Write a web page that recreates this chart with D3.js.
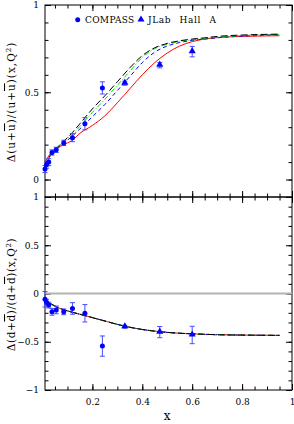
<!DOCTYPE html>
<meta charset="utf-8">
<script src="https://d3js.org/d3.v7.min.js"></script>
<style>
  body { margin: 0; background: #fff; }
  text { font-family: "DejaVu Serif", serif; }
</style>
<div id="chart"></div>
<script>
// x grid of the model curves
var xGrid = [0.01, 0.02, 0.03, 0.05, 0.07, 0.1, 0.12, 0.15, 0.2, 0.25, 0.3, 0.35, 0.4, 0.45, 0.5, 0.55, 0.6, 0.65, 0.7, 0.8, 0.9, 0.95];

// upper panel, Delta(u+ubar)/(u+ubar)
var uRed   = [0.10, 0.125, 0.145, 0.17, 0.19, 0.21, 0.225, 0.265, 0.31, 0.365, 0.44, 0.52, 0.60, 0.67, 0.725, 0.765, 0.79, 0.805, 0.813, 0.82, 0.823, 0.824];
var uBlue  = [0.08, 0.11, 0.135, 0.165, 0.19, 0.225, 0.25, 0.29, 0.36, 0.43, 0.51, 0.59, 0.67, 0.73, 0.765, 0.785, 0.797, 0.805, 0.812, 0.822, 0.828, 0.83];
var uGreen = [0.075, 0.11, 0.135, 0.17, 0.195, 0.235, 0.26, 0.305, 0.385, 0.46, 0.54, 0.62, 0.70, 0.75, 0.775, 0.792, 0.80, 0.808, 0.815, 0.825, 0.83, 0.832];
var uBlack = [0.075, 0.11, 0.135, 0.17, 0.20, 0.24, 0.27, 0.32, 0.405, 0.48, 0.56, 0.64, 0.71, 0.755, 0.78, 0.795, 0.805, 0.812, 0.82, 0.828, 0.832, 0.833];

// lower panel, Delta(d+dbar)/(d+dbar) -- the four curves sit on top of each other
var dCurve = [-0.04, -0.08, -0.10, -0.13, -0.155, -0.18, -0.195, -0.215, -0.25, -0.285, -0.32, -0.35, -0.373, -0.39, -0.403, -0.412, -0.418, -0.423, -0.427, -0.431, -0.433, -0.434];

// data points
var compassX     = [0.01, 0.016, 0.025, 0.038, 0.055, 0.085, 0.12, 0.17, 0.24];
var compassU     = [0.06, 0.085, 0.10, 0.155, 0.17, 0.21, 0.24, 0.32, 0.525];
var compassUErr  = [0.02, 0.02, 0.02, 0.015, 0.015, 0.015, 0.023, 0.035, 0.035];
var compassD     = [-0.06, -0.09, -0.12, -0.19, -0.17, -0.19, -0.155, -0.205, -0.545];
var compassDErr  = [0.08, 0.03, 0.03, 0.035, 0.04, 0.03, 0.06, 0.09, 0.105];

var jlabX    = [0.33, 0.47, 0.60];
var jlabU    = [0.552, 0.655, 0.733];
var jlabUErr = [0.012, 0.015, 0.03];
var jlabD    = [-0.345, -0.40, -0.43];
var jlabDErr = [0.015, 0.058, 0.09];

var xTicksMajor = [0.2, 0.4, 0.6, 0.8, 1];

var W = 294, H = 424;
var left = 45, right = 292, topY = 5, midY = 197, botY = 390;

var svg = d3.select("#chart").append("svg")
    .attr("width", W).attr("height", H);

var x = d3.scaleLinear().domain([0.01, 1]).range([left, right]);
var yU = d3.scaleLinear().domain([-0.1, 1]).range([midY, topY]);
var yD = d3.scaleLinear().domain([-1, 1]).range([botY, midY]);

var xMinor = d3.range(0.05, 1.0, 0.05).map(function(v) { return +v.toFixed(2); });

function panel(y, yMinor, yMajor, top, bottom, showX) {
  var g = svg.append("g");

  // inward ticks on all four sides
  g.append("g").attr("transform", "translate(0," + bottom + ")")
    .call(d3.axisTop(x).tickValues(xMinor).tickSize(3.5).tickFormat(""));
  g.append("g").attr("transform", "translate(0," + bottom + ")")
    .call(d3.axisTop(x).tickValues(xTicksMajor).tickSize(6).tickFormat(""));
  g.append("g").attr("transform", "translate(0," + top + ")")
    .call(d3.axisBottom(x).tickValues(xMinor).tickSize(3.5).tickFormat(""));
  g.append("g").attr("transform", "translate(0," + top + ")")
    .call(d3.axisBottom(x).tickValues(xTicksMajor).tickSize(6).tickFormat(""));

  g.append("g").attr("transform", "translate(" + left + ",0)")
    .call(d3.axisRight(y).tickValues(yMinor).tickSize(3.5).tickFormat(""));
  g.append("g").attr("transform", "translate(" + left + ",0)")
    .call(d3.axisLeft(y).tickValues(yMajor).tickSize(-6).tickPadding(6)
      .tickFormat(d3.format("~g")));
  g.append("g").attr("transform", "translate(" + right + ",0)")
    .call(d3.axisLeft(y).tickValues(yMinor).tickSize(3.5).tickFormat(""));
  g.append("g").attr("transform", "translate(" + right + ",0)")
    .call(d3.axisLeft(y).tickValues(yMajor).tickSize(6).tickFormat(""));

  if (showX) {
    g.append("g").attr("transform", "translate(0," + bottom + ")")
      .call(d3.axisBottom(x).tickValues(xTicksMajor).tickSize(0).tickPadding(9)
        .tickFormat(d3.format("~g")));
  }

  g.selectAll(".domain").remove();
  g.selectAll(".tick line").attr("stroke", "#000");
  g.selectAll(".tick text").attr("font-family", "DejaVu Serif").attr("font-size", 9).attr("fill", "#000");

  g.append("rect")
    .attr("x", left).attr("y", top)
    .attr("width", right - left).attr("height", bottom - top)
    .attr("fill", "none").attr("stroke", "#000").attr("stroke-width", 1);
  return g;
}

panel(yU, d3.range(-0.1, 1.01, 0.1).map(function(v) { return +v.toFixed(1); }), [0, 0.5, 1], topY, midY, false);
panel(yD, d3.range(-1, 1.01, 0.1).map(function(v) { return +v.toFixed(1); }), [-1, -0.5, 0, 0.5, 1], midY, botY, true);

// zero line in lower panel
svg.append("line")
  .attr("x1", left).attr("x2", right)
  .attr("y1", yD(0)).attr("y2", yD(0))
  .attr("stroke", "#b4b4b4").attr("stroke-width", 2);

var styles = [
  {color: "#ff0000", dash: null},
  {color: "#0000ff", dash: "4,3"},
  {color: "#00e000", dash: "5,2,1,2"},
  {color: "#000000", dash: "7,3"}
];

function drawCurve(y, vals, s) {
  var line = d3.line()
    .x(function(d, i) { return x(xGrid[i]); })
    .y(function(d) { return y(d); })
    .curve(d3.curveMonotoneX);
  svg.append("path")
    .datum(vals)
    .attr("d", line)
    .attr("fill", "none")
    .attr("stroke", s.color)
    .attr("stroke-width", 1)
    .attr("stroke-dasharray", s.dash);
}

[uRed, uBlue, uGreen, uBlack].forEach(function(v, i) { drawCurve(yU, v, styles[i]); });
[dCurve, dCurve, dCurve, dCurve].forEach(function(v, i) { drawCurve(yD, v, styles[i]); });

function errorBars(y, xs, ys, es) {
  var g = svg.append("g").attr("stroke", "#4a4aff").attr("stroke-width", 1);
  xs.forEach(function(xv, i) {
    var px = x(xv), y1 = y(ys[i] - es[i]), y2 = y(ys[i] + es[i]);
    g.append("line").attr("x1", px).attr("x2", px).attr("y1", y1).attr("y2", y2);
    g.append("line").attr("x1", px - 2.5).attr("x2", px + 2.5).attr("y1", y1).attr("y2", y1);
    g.append("line").attr("x1", px - 2.5).attr("x2", px + 2.5).attr("y1", y2).attr("y2", y2);
  });
}

function circles(y, xs, ys) {
  svg.append("g").selectAll("circle")
    .data(xs).enter().append("circle")
    .attr("cx", function(d) { return x(d); })
    .attr("cy", function(d, i) { return y(ys[i]); })
    .attr("r", 2.5)
    .attr("fill", "#0000ff");
}

var tri = d3.symbol().type(d3.symbolTriangle).size(22);
function triangles(y, xs, ys) {
  svg.append("g").selectAll("path")
    .data(xs).enter().append("path")
    .attr("d", tri)
    .attr("transform", function(d, i) { return "translate(" + x(d) + "," + (y(ys[i]) - 0.5) + ")"; })
    .attr("fill", "#0000ff");
}

errorBars(yU, compassX, compassU, compassUErr);
errorBars(yU, jlabX, jlabU, jlabUErr);
circles(yU, compassX, compassU);
triangles(yU, jlabX, jlabU);

errorBars(yD, compassX, compassD, compassDErr);
errorBars(yD, jlabX, jlabD, jlabDErr);
circles(yD, compassX, compassD);
triangles(yD, jlabX, jlabD);

// legend
svg.append("circle").attr("cx", 77.7).attr("cy", 19.7).attr("r", 2.5).attr("fill", "#0000ff");
svg.append("text").attr("x", 85).attr("y", 23).attr("font-size", 9).attr("letter-spacing", 0.3).text("COMPASS");
svg.append("path").attr("d", tri).attr("transform", "translate(141,19.5)").attr("fill", "#0000ff");
svg.append("text").attr("x", 148).attr("y", 23).attr("font-size", 9)
  .attr("letter-spacing", 0.6).attr("word-spacing", 5).text("JLab Hall A");

// axis titles
svg.append("text")
  .attr("transform", "translate(15," + ((topY + midY) / 2 + 1) + ") rotate(-90)")
  .attr("text-anchor", "middle").attr("font-size", 10.5).attr("letter-spacing", 1)
  .html("Δ(u+<tspan text-decoration='overline'>u</tspan>)/(u+<tspan text-decoration='overline'>u</tspan>)(x,Q<tspan dy='-4' font-size='7'>2</tspan><tspan dy='4'>)</tspan>");
svg.append("text")
  .attr("transform", "translate(15," + ((midY + botY) / 2 + 1) + ") rotate(-90)")
  .attr("text-anchor", "middle").attr("font-size", 10.5).attr("letter-spacing", 0.6)
  .html("Δ(d+<tspan text-decoration='overline'>d</tspan>)/(d+<tspan text-decoration='overline'>d</tspan>)(x,Q<tspan dy='-4' font-size='7'>2</tspan><tspan dy='4'>)</tspan>");
svg.append("text")
  .attr("x", x(0.5)).attr("y", 420)
  .attr("text-anchor", "middle").attr("font-size", 12).text("x");
</script>
